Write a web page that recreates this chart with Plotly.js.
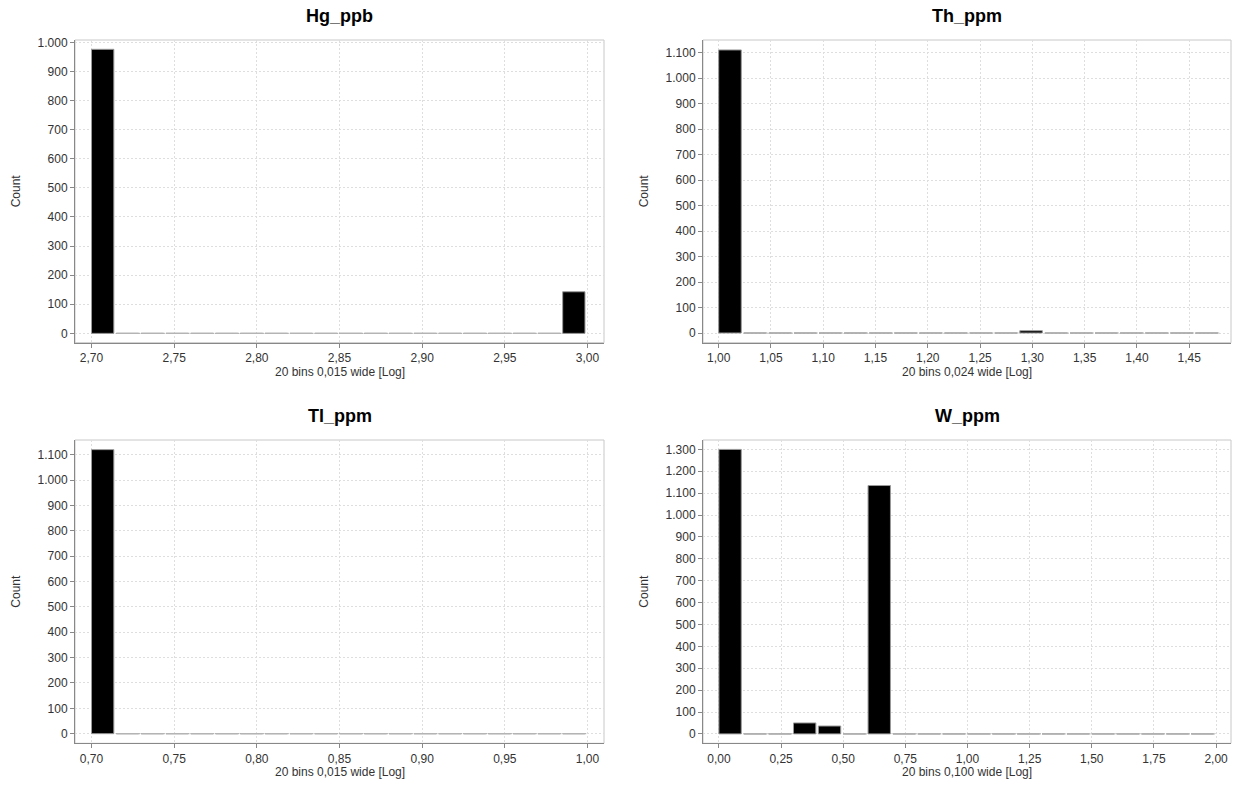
<!DOCTYPE html>
<html><head><meta charset="utf-8">
<script src="https://cdn.plot.ly/plotly-3.0.1.min.js"></script>
<style>html,body{margin:0;padding:0;background:#fff}#chart{width:1238px;height:791px}</style>
</head><body><div id="chart"></div>
<script>
// ---- data ----
const panelTitles = ['Hg_ppb', 'Th_ppm', 'Tl_ppm', 'W_ppm'];
const xAxisTitles = ['20 bins 0,015 wide [Log]', '20 bins 0,024 wide [Log]', '20 bins 0,015 wide [Log]', '20 bins 0,100 wide [Log]'];
const yAxisTitle = 'Count';
const binStarts = [2.70, 1.00, 0.70, 0.00];
const binWidths = [0.015, 0.024, 0.015, 0.100];
const hgCounts = [976, 0, 0, 0, 0, 0, 0, 0, 0, 0, 0, 0, 0, 0, 0, 0, 0, 0, 0, 143];
const thCounts = [1110, 0, 0, 0, 0, 0, 0, 0, 0, 0, 0, 0, 9, 0, 0, 0, 0, 0, 0, 0];
const tlCounts = [1120, 0, 0, 0, 0, 0, 0, 0, 0, 0, 0, 0, 0, 0, 0, 0, 0, 0, 0, 0];
const wCounts = [1300, 0, 0, 50, 36, 0, 1135, 0, 0, 0, 0, 0, 0, 0, 0, 0, 0, 0, 0, 0];
const allCounts = [hgCounts, thCounts, tlCounts, wCounts];

// ---- layout geometry (pixels) ----
const W = 1238, H = 791;
const xDom = [[75, 604], [703, 1231], [75, 604], [703, 1231]];
const yDom = [[40, 342.7], [40, 342.7], [440, 743.3], [440, 743.3]];
const xRanges = [[2.69, 3.01], [0.985, 1.49], [0.69, 1.01], [-0.064, 2.06]];
const yRanges = [[-32, 1008], [-38, 1149], [-38, 1158], [-43, 1343]];
const xTick0 = [2.70, 1.00, 0.70, 0.00];
const xDtick = [0.05, 0.05, 0.05, 0.25];

const FONT = 'Liberation Sans, Arial, sans-serif';
const traces = [];
const layout = {
  width: W, height: H,
  margin: {l: 0, r: 0, t: 0, b: 0},
  paper_bgcolor: '#fff', plot_bgcolor: '#fff',
  separators: ',.',
  showlegend: false,
  font: {family: FONT, size: 12, color: '#333'},
  annotations: [], shapes: []
};

for (let p = 0; p < 4; p++) {
  const n = p + 1;
  const xa = n === 1 ? 'x' : 'x' + n;
  const ya = n === 1 ? 'y' : 'y' + n;
  const counts = allCounts[p];
  const starts = counts.map((_, i) => binStarts[p] + i * binWidths[p]);
  // bars
  traces.push({
    type: 'bar', x: starts, y: counts, xaxis: xa, yaxis: ya,
    offset: 0, width: binWidths[p] * 0.9,
    marker: {color: '#000', line: {color: '#9a9a9a', width: 1}},
    hoverinfo: 'x+y'
  });
  // outlines of empty bins (zero-height bars)
  const zx = [], zy = [];
  counts.forEach((c, i) => {
    if (c === 0) {
      zx.push(starts[i], starts[i] + binWidths[p] * 0.95, null);
      zy.push(0, 0, null);
    }
  });
  traces.push({
    type: 'scatter', mode: 'lines', x: zx, y: zy, xaxis: xa, yaxis: ya,
    line: {color: '#b4b4b4', width: 1.2}, hoverinfo: 'skip', connectgaps: false
  });

  const xd = [xDom[p][0] / W, xDom[p][1] / W];
  const yd = [(H - yDom[p][1]) / H, (H - yDom[p][0]) / H];
  const axBase = {
    showline: true, linecolor: '#888', linewidth: 1,
    ticks: 'outside', ticklen: 4, tickcolor: '#888', tickwidth: 1,
    showgrid: true, gridcolor: '#dedede', griddash: '2px,2px', gridwidth: 1,
    zeroline: false, tickfont: {family: FONT, size: 12, color: '#333'}
  };
  layout['xaxis' + (n === 1 ? '' : n)] = Object.assign({}, axBase, {
    domain: xd, range: xRanges[p], anchor: ya,
    tickmode: 'linear', tick0: xTick0[p], dtick: xDtick[p], tickformat: '.2f'
  });
  layout['yaxis' + (n === 1 ? '' : n)] = Object.assign({}, axBase, {
    domain: yd, range: yRanges[p], anchor: xa,
    tickmode: 'linear', tick0: 0, dtick: 100, tickformat: ',d'
  });
  // light frame around plot area
  layout.shapes.push({
    type: 'rect', xref: xa + ' domain', yref: ya + ' domain',
    x0: 0, x1: 1, y0: 0, y1: 1, line: {color: '#c8c8c8', width: 1}, layer: 'below'
  });
  const cx = (xd[0] + xd[1]) / 2;
  // panel title
  layout.annotations.push({
    text: panelTitles[p], xref: 'paper', yref: 'paper',
    x: cx, y: (H - (yDom[p][0] - 24)) / H, xanchor: 'center', yanchor: 'middle',
    showarrow: false, font: {family: FONT, size: 18, weight: 'bold', color: '#000'}
  });
  // x-axis title
  layout.annotations.push({
    text: xAxisTitles[p], xref: 'paper', yref: 'paper',
    x: cx, y: (H - (yDom[p][1] + 29)) / H, xanchor: 'center', yanchor: 'middle',
    showarrow: false, font: {family: FONT, size: 12, color: '#333'}
  });
  // y-axis title
  layout.annotations.push({
    text: yAxisTitle, xref: 'paper', yref: 'paper', textangle: -90,
    x: (xDom[p][0] - 59) / W, y: (yd[0] + yd[1]) / 2, xanchor: 'center', yanchor: 'middle',
    showarrow: false, font: {family: FONT, size: 12, color: '#333'}
  });
}

Plotly.newPlot('chart', traces, layout, {displayModeBar: false, staticPlot: true});
</script>
</body></html>
